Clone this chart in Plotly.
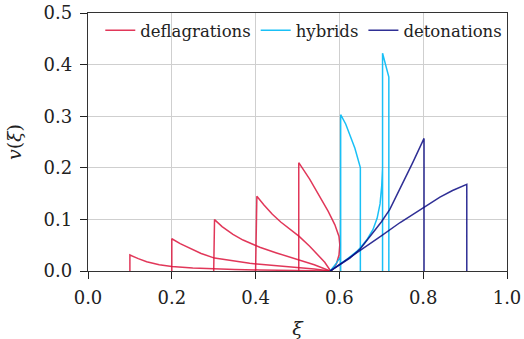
import plotly.graph_objects as go

# ---- data ----
# deflagrations
defl_01_xi = [0.1, 0.1, 0.12, 0.14, 0.17, 0.2, 0.25, 0.3, 0.35, 0.41, 0.5, 0.578]
defl_01_v = [0.0, 0.031, 0.024, 0.018, 0.012, 0.0085, 0.0058, 0.004, 0.003, 0.002, 0.001, 0.0]
defl_02_xi = [0.2, 0.2, 0.22, 0.243, 0.27, 0.302, 0.35, 0.386, 0.41, 0.45, 0.5, 0.54, 0.578]
defl_02_v = [0.0, 0.0625, 0.053, 0.044, 0.034, 0.025, 0.019, 0.015, 0.013, 0.010, 0.0075, 0.004, 0.0]
defl_03_xi = [0.3, 0.302, 0.32, 0.346, 0.37, 0.386, 0.41, 0.45, 0.48, 0.5, 0.54, 0.578]
defl_03_v = [0.0, 0.0996, 0.086, 0.071, 0.060, 0.054, 0.046, 0.035, 0.027, 0.022, 0.012, 0.0]
defl_04_xi = [0.4, 0.403, 0.42, 0.44, 0.46, 0.48, 0.504, 0.529, 0.545, 0.565, 0.579]
defl_04_v = [0.0, 0.145, 0.128, 0.110, 0.095, 0.082, 0.067, 0.048, 0.035, 0.017, 0.0]
defl_05_xi = [0.503, 0.503, 0.529, 0.553, 0.573, 0.589, 0.599, 0.601, 0.599, 0.593, 0.585, 0.581]
defl_05_v = [0.0, 0.210, 0.178, 0.145, 0.116, 0.090, 0.067, 0.051, 0.031, 0.014, 0.005, 0.0]

# hybrids
hyb_06_xi = [0.578, 0.59, 0.603, 0.603, 0.603, 0.615, 0.625, 0.637, 0.650, 0.650]
hyb_06_v = [0.0, 0.012, 0.028, 0.0, 0.303, 0.285, 0.265, 0.238, 0.2006, 0.0]
hyb_07_xi = [0.578, 0.6, 0.62, 0.64, 0.65, 0.665, 0.68, 0.69, 0.697, 0.701, 0.703, 0.703, 0.703, 0.718, 0.718]
hyb_07_v = [0.0, 0.012, 0.024, 0.037, 0.045, 0.060, 0.080, 0.102, 0.130, 0.165, 0.20, 0.0, 0.422, 0.376, 0.0]

# detonations
det_08_xi = [0.578, 0.6, 0.625, 0.65, 0.68, 0.70, 0.72, 0.752, 0.775, 0.802, 0.802]
det_08_v = [0.0, 0.011, 0.025, 0.043, 0.073, 0.095, 0.119, 0.171, 0.21, 0.257, 0.0]
det_09_xi = [0.578, 0.6, 0.65, 0.70, 0.745, 0.80, 0.84, 0.87, 0.904, 0.904]
det_09_v = [0.0, 0.012, 0.040, 0.068, 0.094, 0.123, 0.143, 0.156, 0.168, 0.0]

groups = ["deflagrations", "hybrids", "detonations"]
colors = ["rgba(220,20,60,0.85)", "rgba(0,185,245,0.9)", "rgba(10,10,130,0.85)"]
curves = [
    [(defl_01_xi, defl_01_v), (defl_02_xi, defl_02_v), (defl_03_xi, defl_03_v),
     (defl_04_xi, defl_04_v), (defl_05_xi, defl_05_v)],
    [(hyb_06_xi, hyb_06_v), (hyb_07_xi, hyb_07_v)],
    [(det_08_xi, det_08_v), (det_09_xi, det_09_v)],
]

x_ticks = [0.0, 0.2, 0.4, 0.6, 0.8, 1.0]
y_ticks = [0.0, 0.1, 0.2, 0.3, 0.4, 0.5]

fig = go.Figure()
for name, col, cs in zip(groups, colors, curves):
    for i, (xs, vs) in enumerate(cs):
        fig.add_trace(go.Scatter(
            x=xs, y=vs, mode="lines", name=name, legendgroup=name,
            showlegend=(i == 0), line=dict(color=col, width=1.5),
        ))

font_family = "DejaVu Serif"
fig.update_layout(
    width=524, height=339,
    margin=dict(l=88, r=17, t=13, b=68, autoexpand=False),
    plot_bgcolor="white", paper_bgcolor="white",
    font=dict(family=font_family, size=16, color="#222"),
    showlegend=True,
    legend=dict(orientation="h", x=0.515, xanchor="center", y=1.0, yanchor="top",
                bgcolor="rgba(0,0,0,0)", font=dict(size=16.5, family=font_family),
                itemwidth=30, tracegroupgap=0),
)
fig.update_xaxes(
    range=[0, 1], tickvals=x_ticks, ticktext=[f"{t:.1f}" for t in x_ticks],
    showgrid=True, gridcolor="#cfcfcf", gridwidth=1,
    showline=True, linecolor="#333", linewidth=1.3, mirror=True,
    ticks="outside", ticklen=7, tickcolor="#222", tickwidth=1.3,
    tickfont=dict(size=18), zeroline=False, automargin=False, ticklabelstandoff=3,
    ticklabeloverflow="allow",
    title=dict(text="<i>ξ</i>", font=dict(size=19), standoff=18),
)
fig.update_yaxes(
    range=[0, 0.5], tickvals=y_ticks, ticktext=[f"{t:.1f}" for t in y_ticks],
    showgrid=True, gridcolor="#cfcfcf", gridwidth=1,
    showline=True, linecolor="#333", linewidth=1.3, mirror=True,
    ticks="outside", ticklen=7, tickcolor="#222", tickwidth=1.3,
    tickfont=dict(size=18), zeroline=False, automargin=False, ticklabelstandoff=4,
    ticklabeloverflow="allow",
    title=dict(text="<i>v</i>(<i>ξ</i>)", font=dict(size=19), standoff=16),
)

fig.write_html(
    "out.html",
    config={"displayModeBar": False},
    post_script="document.body.style.margin='0';document.body.style.overflow='hidden';",
)
